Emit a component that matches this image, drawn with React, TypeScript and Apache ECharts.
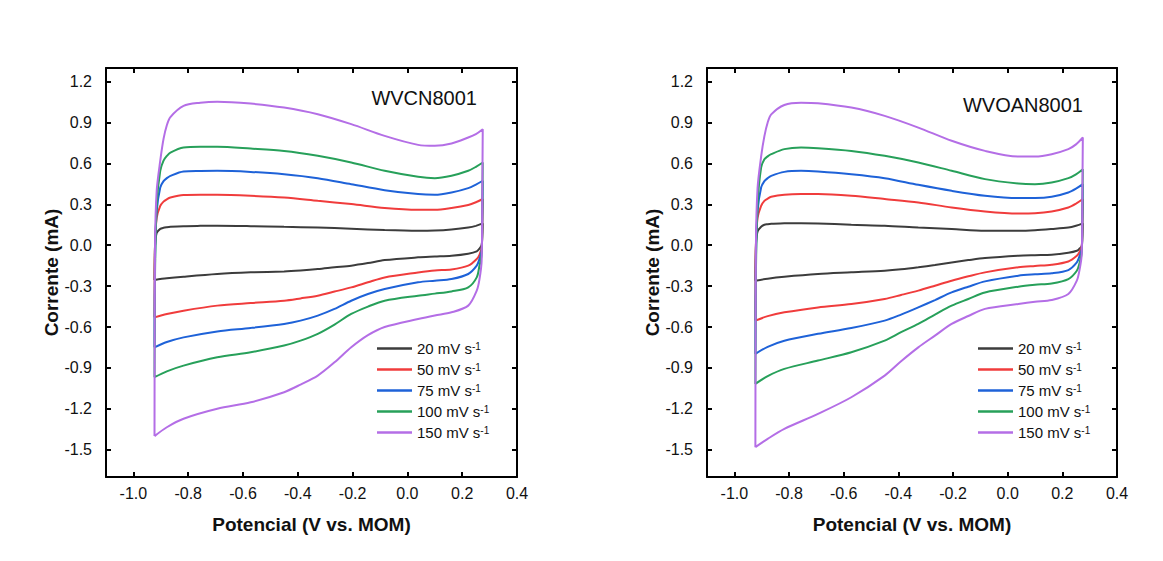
import React, { useEffect, useRef } from "react";
import * as echarts from "echarts";

// Potential grids (V vs. MOM): anodic sweep (left → right) and cathodic sweep (right → left)
const X_UP = [-0.923, -0.921, -0.915, -0.902, -0.89, -0.878, -0.865, -0.817, -0.756, -0.694, -0.572, -0.45, -0.327, -0.205, -0.083, 0.039, 0.1, 0.161, 0.222, 0.25, 0.275];
const X_DOWN = [0.275, 0.273, 0.271, 0.263, 0.253, 0.222, 0.161, 0.1, 0.039, -0.083, -0.144, -0.205, -0.266, -0.327, -0.39, -0.45, -0.572, -0.694, -0.817, -0.878, -0.923];

const SCAN_RATES = ["20", "50", "75", "100", "150"];
const COLORS = ["#3c3c3c", "#f03c3c", "#1e62d8", "#27a05a", "#b46ee6"];

const X_TICKS = [-1.0, -0.8, -0.6, -0.4, -0.2, 0.0, 0.2, 0.4];
const Y_TICKS = [-1.5, -1.2, -0.9, -0.6, -0.3, 0.0, 0.3, 0.6, 0.9, 1.2];

const PANEL_TITLES = ["WVCN8001", "WVOAN8001"];

// WVCN8001 (mA)
const CN_20_UP = [-0.255, 0.0, 0.09, 0.12, 0.128, 0.132, 0.135, 0.14, 0.142, 0.143, 0.14, 0.135, 0.13, 0.121, 0.111, 0.106, 0.108, 0.116, 0.13, 0.142, 0.16];
const CN_20_DOWN = [0.16, 0.05, 0.0, -0.025, -0.045, -0.062, -0.077, -0.083, -0.089, -0.109, -0.131, -0.15, -0.162, -0.175, -0.185, -0.192, -0.199, -0.211, -0.231, -0.243, -0.255];
const CN_50_UP = [-0.529, 0.0, 0.2, 0.289, 0.32, 0.337, 0.35, 0.368, 0.37, 0.37, 0.363, 0.35, 0.326, 0.302, 0.273, 0.26, 0.26, 0.273, 0.295, 0.315, 0.339];
const CN_50_DOWN = [0.339, 0.1, -0.016, -0.07, -0.101, -0.15, -0.178, -0.185, -0.2, -0.236, -0.272, -0.309, -0.34, -0.37, -0.39, -0.407, -0.424, -0.443, -0.48, -0.505, -0.529];
const CN_75_UP = [-0.749, -0.1, 0.25, 0.423, 0.47, 0.492, 0.509, 0.541, 0.545, 0.546, 0.538, 0.521, 0.492, 0.448, 0.404, 0.375, 0.37, 0.387, 0.419, 0.445, 0.473];
const CN_75_DOWN = [0.473, 0.15, -0.04, -0.1, -0.15, -0.211, -0.248, -0.26, -0.272, -0.321, -0.358, -0.407, -0.467, -0.516, -0.553, -0.577, -0.607, -0.632, -0.676, -0.71, -0.749];
const CN_100_UP = [-0.968, -0.2, 0.3, 0.546, 0.62, 0.655, 0.68, 0.717, 0.722, 0.722, 0.709, 0.692, 0.656, 0.607, 0.546, 0.502, 0.492, 0.51, 0.546, 0.575, 0.607];
const CN_100_DOWN = [0.607, 0.2, -0.065, -0.15, -0.236, -0.309, -0.339, -0.355, -0.37, -0.407, -0.45, -0.504, -0.582, -0.65, -0.7, -0.736, -0.785, -0.822, -0.883, -0.925, -0.968];
const CN_150_UP = [-1.4, 0.0, 0.4, 0.62, 0.78, 0.88, 0.94, 1.022, 1.045, 1.053, 1.039, 1.01, 0.961, 0.888, 0.802, 0.736, 0.729, 0.746, 0.79, 0.815, 0.851];
const CN_150_DOWN = [0.851, 0.3, -0.113, -0.25, -0.333, -0.443, -0.492, -0.515, -0.541, -0.6, -0.66, -0.749, -0.859, -0.956, -1.022, -1.078, -1.152, -1.2, -1.273, -1.335, -1.4];

// WVOAN8001 (mA)
const OAN_20_UP = [-0.26, 0.0, 0.1, 0.135, 0.15, 0.154, 0.157, 0.162, 0.162, 0.16, 0.15, 0.143, 0.13, 0.119, 0.106, 0.106, 0.11, 0.119, 0.13, 0.143, 0.16];
const OAN_20_DOWN = [0.16, 0.05, -0.01, -0.025, -0.04, -0.055, -0.07, -0.073, -0.077, -0.094, -0.109, -0.126, -0.145, -0.162, -0.177, -0.187, -0.199, -0.211, -0.231, -0.245, -0.26];
const OAN_50_UP = [-0.553, 0.0, 0.2, 0.289, 0.325, 0.342, 0.355, 0.37, 0.375, 0.375, 0.363, 0.339, 0.314, 0.277, 0.248, 0.233, 0.235, 0.248, 0.277, 0.305, 0.339];
const OAN_50_DOWN = [0.339, 0.1, -0.004, -0.05, -0.077, -0.119, -0.143, -0.152, -0.162, -0.199, -0.228, -0.26, -0.297, -0.333, -0.365, -0.394, -0.431, -0.456, -0.492, -0.52, -0.553];
const OAN_75_UP = [-0.797, -0.1, 0.25, 0.423, 0.47, 0.492, 0.509, 0.538, 0.546, 0.541, 0.521, 0.492, 0.443, 0.399, 0.363, 0.346, 0.346, 0.355, 0.387, 0.415, 0.448];
const OAN_75_DOWN = [0.448, 0.15, -0.028, -0.08, -0.126, -0.182, -0.206, -0.213, -0.223, -0.265, -0.304, -0.346, -0.402, -0.456, -0.509, -0.553, -0.607, -0.65, -0.7, -0.745, -0.797];
const OAN_100_UP = [-1.017, -0.2, 0.3, 0.57, 0.63, 0.652, 0.668, 0.705, 0.717, 0.712, 0.692, 0.656, 0.607, 0.546, 0.485, 0.453, 0.448, 0.46, 0.492, 0.52, 0.558];
const OAN_100_DOWN = [0.558, 0.2, -0.053, -0.13, -0.187, -0.248, -0.28, -0.29, -0.304, -0.346, -0.394, -0.443, -0.509, -0.577, -0.638, -0.7, -0.785, -0.846, -0.907, -0.96, -1.017];
const OAN_150_UP = [-1.481, 0.0, 0.42, 0.65, 0.8, 0.9, 0.96, 1.029, 1.046, 1.042, 1.01, 0.949, 0.863, 0.766, 0.692, 0.651, 0.651, 0.668, 0.705, 0.74, 0.79];
const OAN_150_DOWN = [0.79, 0.3, -0.065, -0.18, -0.26, -0.358, -0.402, -0.415, -0.431, -0.467, -0.519, -0.577, -0.663, -0.749, -0.851, -0.956, -1.115, -1.237, -1.347, -1.42, -1.481];

const PANELS = [
  [[CN_20_UP, CN_20_DOWN], [CN_50_UP, CN_50_DOWN], [CN_75_UP, CN_75_DOWN], [CN_100_UP, CN_100_DOWN], [CN_150_UP, CN_150_DOWN]],
  [[OAN_20_UP, OAN_20_DOWN], [OAN_50_UP, OAN_50_DOWN], [OAN_75_UP, OAN_75_DOWN], [OAN_100_UP, OAN_100_DOWN], [OAN_150_UP, OAN_150_DOWN]],
];

const FONT = "'Liberation Sans', Arial, sans-serif";
const GRID_LEFT = [106, 707];
const GRID_W = [411, 410];
const GRID_TOP = 68;
const GRID_H = 409;

function loop(up: number[], down: number[]) {
  return X_UP.map((x, i) => [x, up[i]]).concat(X_DOWN.map((x, i) => [x, down[i]]));
}

const fmt = (v: number) => (Math.abs(v) < 1e-9 ? 0 : v).toFixed(1);

export default function App() {
  const ref = useRef<HTMLDivElement>(null);
  useEffect(() => {
    if (!ref.current) return;
    const chart = echarts.init(ref.current, null, { renderer: "svg" });
    const frameLine = { show: true, onZero: false, lineStyle: { color: "#000", width: 2 } };
    const tick = (vals: number[]) => ({ show: true, inside: true, length: 5, lineStyle: { color: "#000", width: 2 }, customValues: vals });
    const xAxes: any[] = [];
    const yAxes: any[] = [];
    const series: any[] = [];
    const legends: any[] = [];
    [0, 1].forEach((p) => {
      xAxes.push({
        type: "value", gridIndex: p, position: "bottom", min: -1.1, max: 0.4,
        axisLine: frameLine, splitLine: { show: false }, axisTick: tick(X_TICKS),
        axisLabel: { customValues: X_TICKS, formatter: fmt, fontSize: 16, fontFamily: FONT, color: "#111", margin: 8 },
        name: "Potencial (V vs. MOM)", nameLocation: "middle", nameGap: 38,
        nameTextStyle: { fontSize: 19, fontWeight: "bold", fontFamily: FONT, color: "#111" },
      });
      xAxes.push({
        type: "value", gridIndex: p, position: "top", min: -1.1, max: 0.4,
        axisLine: frameLine, splitLine: { show: false }, axisTick: tick(X_TICKS),
        axisLabel: { show: false },
      });
      yAxes.push({
        type: "value", gridIndex: p, position: "left", min: -1.7, max: 1.3,
        axisLine: frameLine, splitLine: { show: false }, axisTick: tick(Y_TICKS),
        axisLabel: { customValues: Y_TICKS, formatter: fmt, fontSize: 16, fontFamily: FONT, color: "#111", margin: 14 },
        name: "Corrente (mA)", nameLocation: "middle", nameGap: 43,
        nameTextStyle: { fontSize: 19, fontWeight: "bold", fontFamily: FONT, color: "#111" },
      });
      yAxes.push({
        type: "value", gridIndex: p, position: "right", min: -1.7, max: 1.3,
        axisLine: frameLine, splitLine: { show: false }, axisTick: tick(Y_TICKS),
        axisLabel: { show: false },
      });
      PANELS[p].forEach(([up, down], i) => {
        series.push({
          type: "line", name: SCAN_RATES[i], xAxisIndex: p * 2, yAxisIndex: p * 2,
          data: loop(up, down), showSymbol: false, symbol: "none", smooth: 0.3,
          lineStyle: { color: COLORS[i], width: 2 }, itemStyle: { color: COLORS[i] },
          z: 2 + i,
        });
      });
      legends.push({
        orient: "vertical", left: GRID_LEFT[p] + 266, top: 336,
        itemWidth: 35, itemHeight: 2.5, icon: "rect", itemGap: 6,
        data: SCAN_RATES, selectedMode: false,
        formatter: (name: string) => `{n|${name} mV s}{s|-1}`,
        textStyle: {
          color: "#111",
          rich: {
            n: { fontSize: 15, fontFamily: FONT, color: "#111", lineHeight: 15 },
            s: { fontSize: 10, fontFamily: FONT, color: "#111", verticalAlign: "top", lineHeight: 8 },
          },
        },
      });
    });
    const graphics = [
      { type: "text", x: 477, y: 98, style: { text: PANEL_TITLES[0], fontSize: 20, fontFamily: FONT, fill: "#111", textAlign: "right", textVerticalAlign: "middle" } },
      { type: "text", x: 1083, y: 105, style: { text: PANEL_TITLES[1], fontSize: 20, fontFamily: FONT, fill: "#111", textAlign: "right", textVerticalAlign: "middle" } },
    ];
    chart.setOption({
      animation: false,
      backgroundColor: "#fff",
      grid: [0, 1].map((p) => ({ left: GRID_LEFT[p], top: GRID_TOP, width: GRID_W[p], height: GRID_H })),
      xAxis: xAxes,
      yAxis: yAxes,
      legend: legends,
      series,
      graphic: graphics,
    });
    return () => chart.dispose();
  }, []);
  return <div ref={ref} style={{ position: "absolute", left: 0, top: 0, width: 1163, height: 561 }} />;
}
